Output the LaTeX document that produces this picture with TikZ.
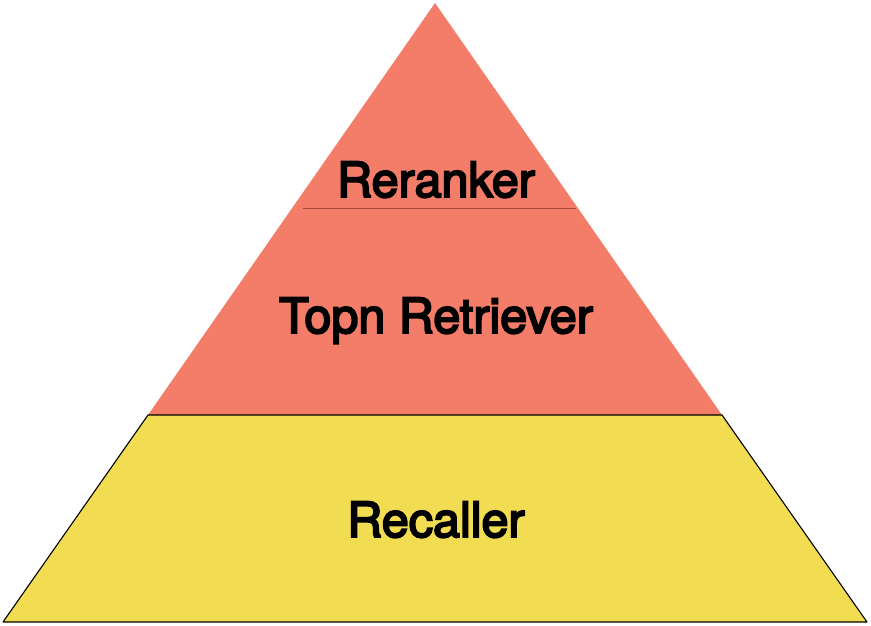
\documentclass[tikz,border=0pt]{standalone}
\usepackage{fontspec}
\newfontfamily\lblfont{TeX Gyre Heros}[FakeBold=4]
\definecolor{pyrred}{RGB}{244,125,105}
\definecolor{pyryellow}{RGB}{242,221,82}
\definecolor{sepred}{RGB}{170,70,58}
\tikzset{
  lbl/.style={anchor=base, font=\lblfont\fontsize{48.5}{54}\selectfont, text=black, inner sep=0pt},
}
\begin{document}
\begin{tikzpicture}[x=1pt,y=-1pt]
\useasboundingbox (0,0) rectangle (871,626);
\coordinate (apex) at (435,3);
\coordinate (ml) at (148,415);
\coordinate (mr) at (722,415);
\coordinate (bl) at (3,622);
\coordinate (br) at (867,622);
\coordinate (sl) at (303,208);
\coordinate (sr) at (576,208);
\fill[pyrred] (apex) -- (mr) -- (ml) -- cycle;
\fill[pyryellow] (ml) -- (mr) -- (br) -- (bl) -- cycle;
\draw[black, line width=1.1pt, line join=round] (ml) -- (mr) -- (br) -- (bl) -- cycle;
\draw[sepred, line width=1pt] (sl) -- (sr);
\node[lbl] (reranker) at (436,197) {Reranker};
\node[lbl] (topn) at (436,333) {Topn Retriever};
\node[lbl] (recaller) at (436,537) {Recaller};
\end{tikzpicture}
\end{document}
